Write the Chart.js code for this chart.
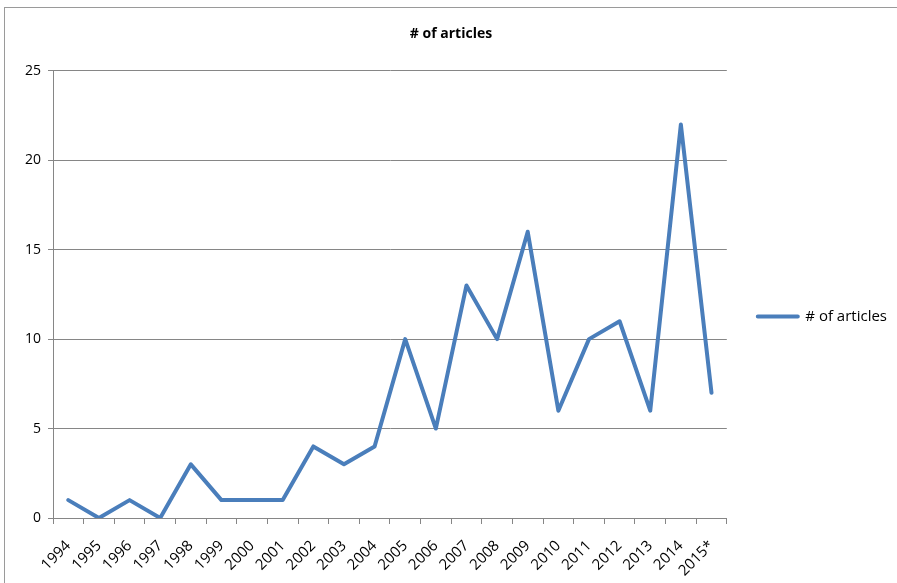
<!DOCTYPE html>
<html>
<head>
<meta charset="utf-8">
<script src="https://cdn.jsdelivr.net/npm/chart.js@4/dist/chart.umd.min.js"></script>
<style>
  html, body { margin: 0; padding: 0; background: #fff; }
  #wrap { position: relative; width: 897px; height: 583px; overflow: hidden; }
  #frame { position: absolute; left: 4px; top: 7px; width: 900px; height: 600px;
           border: 1px solid #9a9a9a; pointer-events: none; }
</style>
</head>
<body>
<div id="wrap">
  <canvas id="chart" width="897" height="583"></canvas>
  <div id="frame"></div>
</div>
<script>
const years = ['1994', '1995', '1996', '1997', '1998', '1999', '2000', '2001', '2002', '2003', '2004',
               '2005', '2006', '2007', '2008', '2009', '2010', '2011', '2012', '2013', '2014', '2015*'];
const articles = [1, 0, 1, 0, 3, 1, 1, 1, 4, 3, 4, 10, 5, 13, 10, 16, 6, 10, 11, 6, 22, 7];
const seriesName = '# of articles';

const blue = '#4a7ebb';
const gridGray = '#868686';
const family = "'Open Sans', sans-serif";

const ctx = document.getElementById('chart').getContext('2d');
new Chart(ctx, {
    type: 'line',
    data: {
        labels: years,
        datasets: [{
            label: seriesName,
            data: articles,
            borderColor: blue,
            backgroundColor: blue,
            borderWidth: 4,
            borderJoinStyle: 'round',
            borderCapStyle: 'round',
            pointRadius: 0,
            tension: 0,
            fill: false
        }]
    },
    options: {
        responsive: false,
        animation: false,
        layout: { padding: { left: 5, right: 0, top: 0, bottom: 0 } },
        plugins: {
            title: {
                display: true,
                text: seriesName,
                color: '#000',
                font: { family: family, size: 14, weight: 'bold' },
                padding: { top: 26, bottom: 28 }
            },
            legend: {
                position: 'right',
                maxWidth: 172,
                title: { display: true, text: ' ', font: { size: 1 }, padding: { top: 25, bottom: 24 } },
                labels: {
                    color: '#000',
                    font: { family: family, size: 15 },
                    boxWidth: 40,
                    boxHeight: 0,
                    padding: 31
                }
            },
            tooltip: { enabled: false }
        },
        scales: {
            x: {
                offset: true,
                grid: {
                    offset: true,
                    drawOnChartArea: false,
                    drawTicks: true,
                    tickLength: 6,
                    color: gridGray
                },
                border: { color: gridGray, width: 1 },
                ticks: {
                    color: '#000',
                    font: { family: family, size: 15 },
                    minRotation: 45,
                    maxRotation: 45,
                    autoSkip: false,
                    padding: 13
                },
                afterFit: (axis) => { axis.height = 65; }
            },
            y: {
                min: 0,
                max: 25,
                ticks: { stepSize: 5, color: '#000', font: { family: family, size: 14 }, padding: 7 },
                grid: { color: gridGray, tickLength: 5, lineWidth: 1 },
                border: { color: gridGray, width: 1 },
                afterFit: (axis) => { axis.width = 48; }
            }
        }
    }
});
</script>
</body>
</html>
